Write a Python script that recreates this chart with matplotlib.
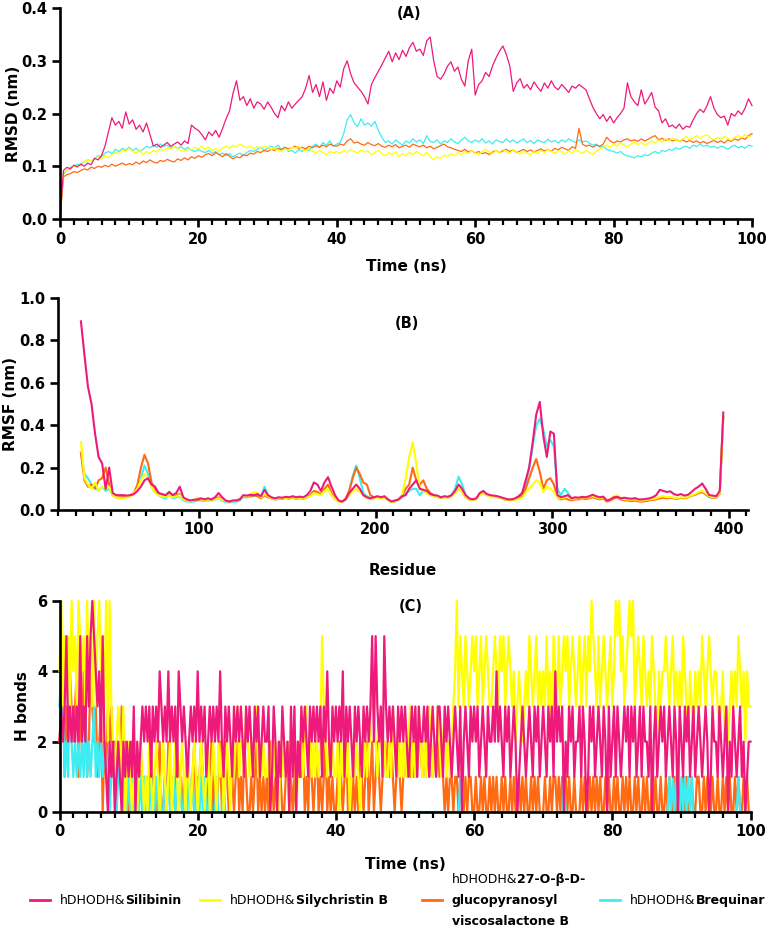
import matplotlib
matplotlib.use("Agg")
import matplotlib.pyplot as plt
from matplotlib.lines import Line2D
from matplotlib.ticker import MultipleLocator, FormatStrFormatter
import numpy as np

plt.rcParams['font.family'] = ['DejaVu Sans']
plt.rcParams['font.weight'] = 'bold'

# series colours
col_sil = "#EE1A7B"
col_sily = "#FFFF00"
col_visc = "#FF6A12"
col_breq = "#3CEEF3"

# ---------------- (A) RMSD, one value every 0.5 ns, in pm (1/1000 nm)
time_a = np.arange(0, 100.5, 0.5)

rmsd_silibinin = [
    0, 92, 98, 95, 102, 99, 104, 100, 106, 103,
    115, 112, 120, 138, 165, 192, 178, 185, 172, 203,
    180, 188, 170, 178, 165, 182, 160, 138, 142, 136,
    140, 145, 138, 142, 146, 140, 148, 143, 178, 172,
    168, 160, 150, 165, 158, 168, 155, 172, 190, 205,
    238, 262, 225, 232, 215, 228, 210, 222, 218, 208,
    222, 212, 200, 192, 215, 205, 222, 210, 218, 225,
    232, 248, 272, 240, 255, 232, 260, 225, 248, 238,
    262, 250, 285, 300, 275, 258, 250, 242, 232, 218,
    255, 268, 280, 292, 305, 318, 298, 315, 302, 320,
    308, 325, 335, 318, 322, 310, 338, 345, 300, 270,
    265, 275, 290, 298, 280, 288, 265, 252, 300, 322,
    235, 255, 262, 278, 270, 290, 305, 318, 328, 312,
    290, 242, 258, 266, 248, 255, 245, 260, 250, 242,
    258, 248, 262, 250, 245, 255, 248, 240, 252, 248,
    255, 250, 245, 228, 212, 200, 190, 198, 185, 195,
    182, 192, 200, 210, 258, 232, 222, 215, 245, 218,
    228, 240, 212, 205, 182, 190, 175, 178, 172, 180,
    170, 176, 174, 188, 200, 208, 202, 215, 232, 210,
    198, 192, 195, 178, 200, 195, 205, 198, 210, 228,
    215]

rmsd_silychristin = [
    0, 88, 92, 96, 100, 98, 104, 108, 112, 110,
    115, 118, 114, 120, 117, 122, 126, 124, 130, 128,
    134, 128, 125, 130, 122, 128, 124, 130, 127, 133,
    130, 135, 132, 138, 134, 130, 128, 133, 131, 136,
    134, 138, 132, 136, 130, 134, 128, 135, 138, 134,
    140, 136, 142, 138, 135, 139, 133, 137, 134, 138,
    136, 132, 135, 130, 128, 133, 130, 136, 134, 138,
    132, 129, 134, 128, 125, 130, 126, 122, 128, 125,
    128, 124, 130, 126, 132, 128, 125, 131, 127, 129,
    122, 126, 130, 124, 120, 126, 122, 128, 118, 124,
    120, 126, 122, 128, 124, 120, 126, 118, 112, 118,
    115, 121, 118, 124, 120, 126, 122, 128, 124, 130,
    126, 122, 128, 132, 127, 124, 130, 126, 132, 128,
    125, 131, 127, 123, 129, 125, 122, 128, 124, 130,
    126, 132, 128, 124, 130, 127, 123, 129, 125, 131,
    128, 124, 130, 126, 122, 128, 132, 136, 140, 136,
    142, 138, 144, 140, 137, 142, 146, 141, 145, 140,
    143, 148, 144, 150, 146, 152, 148, 154, 150, 147,
    152, 156, 150, 154, 158, 153, 157, 160, 154, 150,
    155, 151, 157, 153, 149, 155, 158, 154, 160, 156,
    158]

rmsd_visco = [
    0, 80, 84, 86, 90, 88, 92, 95, 93, 98,
    96, 100, 98, 102, 99, 104, 100, 103, 106, 102,
    105, 103, 108, 104, 110, 107, 112, 108, 106, 111,
    109, 113, 110, 108, 114, 111, 116, 112, 118, 115,
    120, 117, 122, 124, 120, 126, 122, 118, 124, 119,
    114, 118, 116, 122, 120, 125, 123, 128, 126, 130,
    128, 132, 130, 134, 131, 136, 133, 135, 138, 134,
    136, 133, 138, 135, 139, 136, 140, 137, 142, 139,
    138, 142, 140, 148, 152, 144, 146, 142, 140, 145,
    141, 139, 143, 138, 136, 140, 137, 141, 135, 138,
    140, 136, 142, 139, 137, 140, 135, 138, 133, 136,
    139, 142, 137, 135, 132, 130, 128, 132, 127, 130,
    125, 128, 124, 126, 122, 127, 130, 126, 129, 132,
    128, 131, 126, 129, 132, 128, 131, 127, 130, 133,
    129, 132, 128, 134, 131, 136, 133, 130, 137, 134,
    172, 142, 138, 140, 136, 140, 138, 142, 155, 148,
    144, 148, 146, 150, 152, 148, 150, 147, 152, 148,
    151, 155, 158, 150, 153, 149, 152, 148, 151, 147,
    150, 146, 149, 145, 148, 144, 147, 143, 146, 149,
    145, 148, 144, 150, 147, 152, 149, 154, 151, 158,
    162]

rmsd_brequinar = [
    0, 85, 92, 98, 100, 104, 102, 108, 112, 110,
    115, 120, 118, 125, 128, 124, 132, 128, 134, 130,
    136, 130, 134, 128, 132, 138, 135, 140, 136, 142,
    138, 140, 135, 138, 134, 137, 132, 136, 130, 128,
    132, 128, 126, 130, 124, 128, 122, 125, 120, 124,
    118, 122, 125, 120, 126, 130, 128, 132, 136, 130,
    134, 138, 135, 140, 132, 136, 128, 130, 125, 132,
    128, 134, 130, 138, 142, 136, 145, 140, 148, 138,
    142, 145, 162, 188, 198, 182, 175, 190, 178, 182,
    176, 185, 168, 155, 145, 148, 142, 150, 145, 140,
    148, 144, 152, 146, 150, 143, 158, 147, 145, 150,
    142, 148, 145, 152, 146, 143, 150, 155, 148, 145,
    150, 146, 152, 144, 148, 142, 150, 147, 145, 152,
    146, 150, 144, 148, 152, 145, 149, 143, 150, 147,
    145, 151, 146, 149, 144, 150, 146, 152, 148, 145,
    150, 146, 148, 144, 140, 142, 136, 138, 132, 130,
    128, 125, 128, 122, 120, 118, 116, 120, 118, 122,
    120, 125, 128, 124, 130, 128, 132, 130, 135, 132,
    136, 138, 134, 140, 137, 142, 138, 140, 136, 138,
    134, 138, 136, 132, 137, 140, 135, 138, 134, 140,
    138]

# ---------------- (B) RMSF, every second residue from 33 to 397, in nm
residue = np.arange(33, 398, 2)

rmsf_silibinin = [
    .89, .73, .58, .50, .36, .25, .22, .10, .20, .08,
    .07, .07, .07, .068, .07, .075, .09, .11, .14, .15,
    .12, .11, .08, .075, .07, .085, .07, .08, .11, .06,
    .05, .045, .048, .05, .055, .05, .055, .05, .06, .08,
    .06, .045, .04, .045, .045, .05, .07, .068, .072, .07,
    .075, .065, .095, .07, .06, .055, .06, .058, .062, .06,
    .065, .06, .063, .06, .07, .09, .13, .12, .09, .13,
    .155, .11, .07, .045, .04, .05, .08, .10, .12, .10,
    .07, .06, .055, .06, .065, .06, .065, .05, .04, .045,
    .05, .065, .07, .10, .12, .14, .10, .095, .09, .075,
    .07, .068, .06, .065, .062, .07, .09, .12, .10, .07,
    .055, .05, .055, .08, .09, .075, .07, .068, .065, .06,
    .055, .05, .05, .055, .065, .08, .14, .20, .32, .45,
    .51, .35, .25, .37, .36, .07, .06, .065, .07, .055,
    .06, .058, .062, .06, .065, .072, .065, .06, .063, .045,
    .05, .06, .062, .055, .058, .055, .053, .056, .05, .05,
    .052, .055, .06, .07, .095, .09, .085, .088, .075, .07,
    .075, .068, .072, .085, .10, .11, .125, .10, .07, .068,
    .065, .09, .46]

rmsf_silychristin = [
    .32, .15, .12, .10, .13, .09, .11, .10, .11, .07,
    .06, .055, .055, .06, .065, .08, .10, .14, .17, .15,
    .11, .08, .07, .065, .06, .07, .06, .065, .07, .05,
    .045, .04, .045, .06, .05, .045, .05, .048, .05, .055,
    .05, .042, .04, .042, .045, .05, .065, .065, .07, .085,
    .08, .06, .075, .065, .055, .05, .055, .055, .057, .055,
    .06, .055, .058, .055, .06, .065, .08, .075, .07, .09,
    .10, .07, .05, .04, .04, .05, .07, .09, .10, .085,
    .07, .055, .05, .055, .06, .055, .06, .045, .038, .04,
    .05, .07, .15, .25, .32, .22, .10, .09, .08, .07,
    .065, .06, .058, .06, .058, .065, .08, .10, .085, .06,
    .05, .048, .05, .07, .08, .07, .065, .06, .06, .058,
    .05, .048, .048, .05, .05, .06, .08, .10, .12, .14,
    .13, .085, .11, .10, .085, .06, .055, .06, .06, .05,
    .055, .055, .06, .058, .06, .065, .06, .055, .06, .045,
    .05, .065, .07, .055, .05, .05, .048, .05, .045, .045,
    .047, .05, .052, .055, .062, .065, .06, .062, .058, .055,
    .06, .058, .062, .07, .075, .085, .09, .08, .065, .06,
    .06, .08, .44]

rmsf_visco = [
    .27, .14, .11, .12, .10, .14, .15, .20, .12, .07,
    .06, .06, .06, .062, .07, .08, .12, .20, .26, .22,
    .13, .10, .08, .07, .065, .085, .065, .07, .075, .055,
    .045, .042, .045, .05, .05, .048, .05, .05, .052, .06,
    .05, .043, .04, .042, .045, .05, .065, .065, .065, .07,
    .065, .055, .07, .06, .055, .05, .055, .055, .058, .056,
    .06, .055, .058, .056, .06, .07, .09, .085, .075, .10,
    .12, .08, .055, .042, .04, .055, .09, .15, .20, .17,
    .13, .12, .07, .06, .062, .058, .062, .048, .04, .042,
    .05, .07, .10, .12, .20, .14, .12, .14, .10, .08,
    .07, .062, .058, .062, .06, .068, .085, .10, .085, .06,
    .05, .05, .052, .075, .085, .072, .066, .063, .062, .058,
    .05, .048, .048, .052, .055, .07, .10, .15, .20, .24,
    .18, .10, .14, .15, .12, .06, .05, .055, .05, .045,
    .05, .05, .055, .052, .055, .06, .055, .05, .055, .04,
    .045, .055, .06, .05, .045, .045, .042, .045, .04, .04,
    .042, .045, .048, .05, .055, .058, .055, .058, .055, .052,
    .058, .055, .06, .068, .072, .08, .085, .075, .062, .058,
    .058, .078, .44]

rmsf_brequinar = [
    .27, .17, .15, .12, .11, .09, .11, .09, .10, .07,
    .06, .055, .058, .06, .065, .08, .10, .15, .21, .17,
    .11, .085, .07, .06, .055, .07, .055, .06, .065, .045,
    .04, .038, .04, .045, .045, .042, .045, .045, .048, .055,
    .045, .038, .036, .038, .04, .045, .06, .06, .065, .065,
    .07, .06, .11, .07, .055, .05, .052, .052, .055, .052,
    .058, .052, .055, .052, .058, .07, .085, .08, .07, .09,
    .10, .07, .05, .04, .038, .05, .09, .16, .21, .15,
    .08, .065, .055, .055, .06, .055, .06, .045, .038, .04,
    .048, .06, .08, .09, .10, .10, .07, .09, .08, .07,
    .065, .06, .058, .06, .06, .07, .10, .157, .12, .07,
    .05, .048, .05, .07, .08, .07, .065, .062, .06, .058,
    .05, .048, .048, .05, .06, .08, .12, .20, .30, .40,
    .43, .38, .30, .33, .30, .10, .07, .10, .08, .055,
    .052, .052, .057, .055, .057, .062, .057, .052, .057, .042,
    .047, .06, .062, .052, .048, .048, .045, .048, .043, .043,
    .045, .048, .05, .055, .06, .062, .058, .06, .056, .054,
    .058, .056, .06, .068, .072, .08, .085, .075, .06, .057,
    .057, .078, .44]

# ---------------- (C) hydrogen bonds, one count every 0.25 ns
time_c = np.arange(0, 100.25, 0.25)

hb_silibinin = [int(c) for c in (
    "2323523232" "3252325356" "5434252102" "1201210212"
    "1213021232" "3231323243" "2324232314" "3232123232"
    "4232312323" "2324213232" "1323232132" "3213231232"
    "2301320213" "2120313021" "3232132323" "2313242132"
    "3232413232" "1323213232" "3525323153" "2323213232"
    "3212323132" "2323123213" "3213232123" "2130232132"
    "3231232132" "2324232132" "3123201232" "1232132312"
    "3213231423" "2302132312" "2313201323" "1232132031"
    "2313212323" "1323123132" "2130231232" "3123213203"
    "2132312312" "3212320132" "2132123021" "3212312012" "2")]

hb_silychristin = [int(c) for c in (
    "4635453645" "3654536453" "6356453626" "3212321301"
    "2101201210" "1021012101" "2101201210" "1210210121"
    "0121012012" "1021201210" "2123122132" "1212312121"
    "1202121021" "2120212012" "2123121212" "1253212121"
    "1202121201" "2121021212" "2432123121" "1213212121"
    "2123121232" "1212321213" "2123121234" "6354354345"
    "4534534543" "3454354534" "5434234323" "4354345343"
    "4353425435" "3454534543" "4534535465" "4353454345"
    "3465645345" "6563454354" "3435432434" "4543453434"
    "3543243243" "4354345434" "4323423234" "3435434243" "3")]

hb_visco = [int(c) for c in (
    "2341324323" "4132431243" "2312302132" "3120213021"
    "0120101201" "1012010120" "0102101021" "1010210120"
    "0121010120" "1012012101" "1012010210" "0101201010"
    "1021010210" "0120101021" "1201021012" "0101201010"
    "0121012010" "1010210120" "1201210121" "2121012101"
    "2121212122" "1212121212" "1210101101" "1010010110"
    "0100101001" "0101001010" "0101001010" "1001010100"
    "0100101101" "0101010010" "0010100101" "0101001010"
    "0101001010" "1001010010" "1001010010" "0101001010"
    "0101001001" "1001010010" "0100101010" "0101001010" "0")]

hb_brequinar = [int(c) for c in (
    "3431214212" "1212131212" "3121212110" "1210121010"
    "1010010101" "0101001010" "0101001010" "1001010100"
    "1010100100" "0100010000" "0000000000" "0000000000"
    "0000000000" "0000000000" "0000000000" "0000000000"
    "0000000000" "0000000000" "0000000000" "0000000000"
    "0000000000" "0000000000" "0000000000" "0010000000"
    "0000000000" "0000000000" "0000000000" "0000000000"
    "0000000000" "0010000000" "0000000000" "0000000000"
    "0000000000" "0000000000" "0000000000" "0001010100"
    "1010101000" "0000000000" "0000000000" "0001000000" "0")]


def style_axis(ax):
    for side in ("top", "right"):
        ax.spines[side].set_visible(False)
    for side in ("left", "bottom"):
        ax.spines[side].set_linewidth(1.9)
    ax.tick_params(which="major", length=6, width=1.9, labelsize=10.5, pad=3)
    ax.tick_params(which="minor", length=4, width=1.6)
    ax.tick_params(axis="y", which="minor", left=False)


fig = plt.figure(figsize=(7.68, 9.32), dpi=100)

# (A)
ax1 = fig.add_axes([60 / 768, 1 - 219 / 932, 692 / 768, 211 / 932])
ax1.plot(time_a, np.array(rmsd_brequinar) / 1000, color=col_breq, lw=0.9, clip_on=False)
ax1.plot(time_a, np.array(rmsd_visco) / 1000, color=col_visc, lw=0.9, clip_on=False)
ax1.plot(time_a, np.array(rmsd_silychristin) / 1000, color=col_sily, lw=0.9, clip_on=False)
ax1.plot(time_a, np.array(rmsd_silibinin) / 1000, color=col_sil, lw=0.9, clip_on=False)
ax1.set_xlim(0, 100)
ax1.set_ylim(0, 0.4)
ax1.set_xticks(range(0, 101, 20))
ax1.set_yticks([0, 0.1, 0.2, 0.3, 0.4])
ax1.xaxis.set_minor_locator(MultipleLocator(2))
ax1.yaxis.set_major_formatter(FormatStrFormatter("%.1f"))
style_axis(ax1)
ax1.set_xlabel("Time (ns)", fontsize=11, fontweight="bold")
ax1.set_ylabel("RMSD (nm)", fontsize=11, fontweight="bold")
ax1.xaxis.set_label_coords(0.5, -0.19)
ax1.yaxis.set_label_coords(-0.057, 0.5)
ax1.text(50.5, 0.389, "(A)", ha="center", va="center", fontsize=10.5, fontweight="bold")

# (B)
ax2 = fig.add_axes([58 / 768, 1 - 510 / 932, 690 / 768, 212 / 932])
ax2.plot(residue, rmsf_brequinar, color=col_breq, lw=1.5)
ax2.plot(residue, rmsf_visco, color=col_visc, lw=1.5)
ax2.plot(residue, rmsf_silychristin, color=col_sily, lw=1.5)
ax2.plot(residue, rmsf_silibinin, color=col_sil, lw=1.5)
ax2.set_xlim(20, 411)
ax2.set_ylim(0, 1.0)
ax2.set_xticks([100, 200, 300, 400])
ax2.xaxis.set_minor_locator(MultipleLocator(10))
ax2.set_yticks([0, 0.2, 0.4, 0.6, 0.8, 1.0])
ax2.yaxis.set_major_formatter(FormatStrFormatter("%.1f"))
style_axis(ax2)
ax2.set_xlabel("Residue", fontsize=11, fontweight="bold")
ax2.set_ylabel("RMSF (nm)", fontsize=11, fontweight="bold")
ax2.xaxis.set_label_coords(0.5, -0.25)
ax2.yaxis.set_label_coords(-0.058, 0.5)
ax2.text(217.7, 0.882, "(B)", ha="center", va="center", fontsize=10.5, fontweight="bold")

# (C)
ax3 = fig.add_axes([59.5 / 768, 1 - 812 / 932, 691 / 768, 211 / 932])
ax3.plot(time_c, hb_visco, color=col_visc, lw=1.6, clip_on=False)
ax3.plot(time_c, hb_brequinar, color=col_breq, lw=1.6, clip_on=False)
ax3.plot(time_c, hb_silychristin, color=col_sily, lw=1.6, clip_on=False)
ax3.plot(time_c, hb_silibinin, color=col_sil, lw=1.6, clip_on=False)
ax3.set_xlim(0, 100)
ax3.set_ylim(0, 6)
ax3.set_xticks(range(0, 101, 20))
ax3.set_yticks([0, 2, 4, 6])
ax3.xaxis.set_minor_locator(MultipleLocator(2))
style_axis(ax3)
ax3.set_xlabel("Time (ns)", fontsize=11, fontweight="bold")
ax3.set_ylabel("H bonds", fontsize=11, fontweight="bold")
ax3.xaxis.set_label_coords(0.5, -0.215)
ax3.yaxis.set_label_coords(-0.042, 0.5)
ax3.text(50.9, 5.83, "(C)", ha="center", va="center", fontsize=10.5, fontweight="bold")

# legend at the bottom, drawn by hand (normal prefix + bold compound name)
renderer = fig.canvas.get_renderer()
W, H = 768.0, 932.0


def legend_entry(x_px, y_px, color, rows):
    fig.add_artist(Line2D([(x_px - 30) / W, (x_px - 10) / W], [1 - y_px / H] * 2,
                          transform=fig.transFigure, color=color, lw=2))
    for k, (normal, bold) in enumerate(rows):
        yb = 1 - (y_px + 4 + (k - (len(rows) - 1) / 2) * 21) / H
        x = x_px / W
        if normal:
            t = fig.text(x, yb, normal, fontsize=9, fontweight="normal", va="baseline")
            x += t.get_window_extent(renderer).width / W
        fig.text(x, yb, bold, fontsize=9, fontweight="bold", va="baseline")


legend_entry(60, 900, col_sil, [("hDHODH&", "Silibinin")])
legend_entry(230, 900, col_sily, [("hDHODH&", "Silychristin B")])
legend_entry(452, 900, col_visc, [("hDHODH&", "27-O-β-D-"), ("", "glucopyranosyl"),
                                  ("", "viscosalactone B")])
legend_entry(630, 900, col_breq, [("hDHODH&", "Brequinar")])

fig.savefig("out.png", dpi=100)
